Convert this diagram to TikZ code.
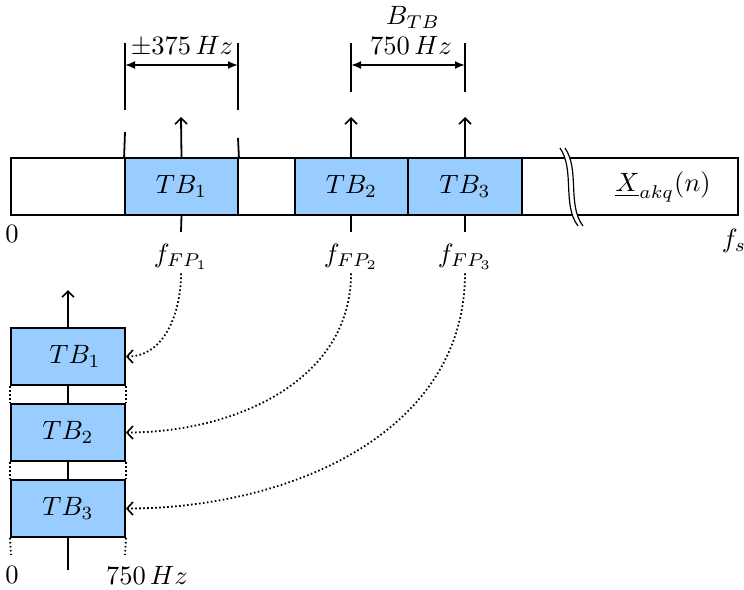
\documentclass[tikz,border=0pt]{standalone}
\usetikzlibrary{arrows.meta}
\definecolor{tbblue}{HTML}{99CCFF}
\newcommand{\BigT}[1]{\scalebox{2.65}{#1}}
\begin{document}
\begin{tikzpicture}[x=1pt,y=-1pt,
  line width=1.8pt,
  box/.style={draw, minimum height=57pt, inner sep=0pt, line width=1.8pt},
  tbbox/.style={box, fill=tbblue, minimum width=113pt},
  up/.style={-{Straight Barb[length=6pt,width=12pt,line width=1.6pt]}},
  dim/.style={{Latex[length=10pt,width=8pt]}-{Latex[length=10pt,width=8pt]}},
  dots/.style={line width=1.8pt, dash pattern=on 1.6pt off 2.4pt},
  curv/.style={dots, -{Straight Barb[length=6pt,width=13pt,line width=1.6pt]}},
  lbl/.style={inner sep=0pt}
]
\useasboundingbox (0,0) rectangle (744,589);

% main bar
\node[box, minimum width=727pt] (bar) at (374.5,186.5) {};
\node[tbbox] (tb1) at (181.5,186.5) {\BigT{$TB_1$}};
\node[tbbox] (tb2) at (351.5,186.5) {\BigT{$TB_2$}};
\node[tbbox, minimum width=114pt] (tb3) at (465,186.5) {\BigT{$TB_3$}};

% break mark
\fill[white] (560,148) .. controls (575,170) and (562,205) .. (578,226)
  -- (583,226) .. controls (567,205) and (580,170) .. (565,148) -- cycle;
\draw[line width=1.2pt] (560,148) .. controls (575,170) and (562,205) .. (578,226);
\draw[line width=1.2pt] (565,148) .. controls (580,170) and (567,205) .. (583,226);

\node[lbl] (x) at (663,187) {\BigT{$\underline{X}_{akq}(n)$}};
\node[lbl] (zero) at (12,234) {\BigT{$0$}};
\node[lbl] (fs) at (734,241) {\BigT{$f_s$}};

% up arrows
\coordinate (a1) at (181,117);
\coordinate (a2) at (351,117);
\coordinate (a3) at (465,117);
\coordinate (b2) at (351,158);
\draw[up] (tb1.north) -- (a1);
\draw[up] (b2) -- (a2);
\draw[up] (tb3.north) -- (a3);

% ticks and f labels
\coordinate (t1) at (181,232);
\coordinate (t2) at (351,232);
\coordinate (t3) at (465,232);
\coordinate (s2) at (351,215);
\draw (tb1.south) -- (t1);
\draw (s2) -- (t2);
\draw (tb3.south) -- (t3);
\node[lbl] (fp1) at (181,257) {\BigT{$f_{FP_1}$}};
\node[lbl] (fp2) at (351,257) {\BigT{$f_{FP_2}$}};
\node[lbl] (fp3) at (465,257) {\BigT{$f_{FP_3}$}};

% dimension lines left
\coordinate (d1a) at (125,43);
\coordinate (d1b) at (125,110);
\coordinate (d1c) at (125,132);
\coordinate (d2a) at (238,43);
\coordinate (d2b) at (238,110);
\coordinate (d2c) at (238,138);
\coordinate (m1) at (125,65);
\coordinate (m2) at (238,65);
\draw (d1a) -- (d1b);
\draw (d1c) -- (tb1.north west);
\draw (d2a) -- (d2b);
\draw (d2c) -- (tb1.north east);
\draw[dim] (m1) -- (m2);
\node[lbl] (pm) at (182,47) {\BigT{$\pm 375\,Hz$}};

% dimension lines right
\coordinate (d3a) at (351,43);
\coordinate (d3b) at (351,92);
\coordinate (d4a) at (465,43);
\coordinate (d4b) at (465,92);
\coordinate (m3) at (351,65);
\coordinate (m4) at (465,65);
\draw (d3a) -- (d3b);
\draw (d4a) -- (d4b);
\draw[dim] (m3) -- (m4);
\node[lbl] (btb) at (413,17) {\BigT{$B_{TB}$}};
\node[lbl] (bw) at (411,45) {\BigT{$750\,Hz$}};

% lower stack
\coordinate (axb) at (68,570);
\coordinate (axt) at (68,290);
\draw[up] (axb) -- (axt);
\node[tbbox, minimum width=114pt] (l1) at (68,356.5) {\hspace*{14pt}\BigT{$TB_1$}};
\node[tbbox, minimum width=114pt] (l2) at (68,432.5) {\BigT{$TB_2$}};
\node[tbbox, minimum width=114pt] (l3) at (68,508.5) {\BigT{$TB_3$}};
\coordinate (e1) at (11,555);
\coordinate (e2) at (125,555);
\draw[dots] (l1.south west) -- (l2.north west);
\draw[dots] (l2.south west) -- (l3.north west);
\draw[dots] (l3.south west) -- (e1);
\draw[dots] (l1.south east) -- (l2.north east);
\draw[dots] (l2.south east) -- (l3.north east);
\draw[dots] (l3.south east) -- (e2);
\node[lbl] (z2) at (12,575) {\BigT{$0$}};
\node[lbl] (h2) at (147,575) {\BigT{$750\,Hz$}};

% curved connectors
\draw[curv] (fp1.south) ++(0,3) to[out=-90,in=0] (l1.east);
\draw[curv] (fp2.south) ++(0,3) to[out=-90,in=0] (l2.east);
\draw[curv] (fp3.south) ++(0,3) to[out=-90,in=0] (l3.east);
\end{tikzpicture}
\end{document}
